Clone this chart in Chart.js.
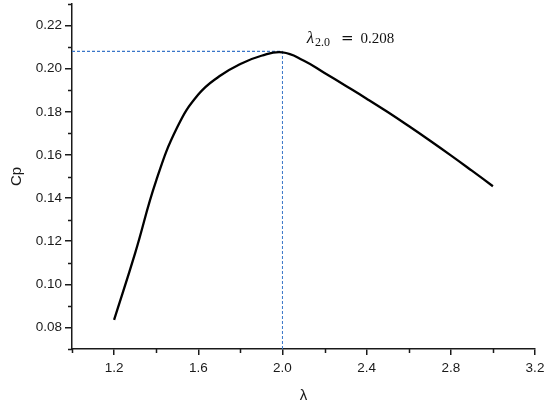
<!DOCTYPE html>
<html><head><meta charset="utf-8">
<script src="https://cdn.jsdelivr.net/npm/chart.js@4.4.1/dist/chart.umd.min.js"></script>
<style>html,body{margin:0;padding:0;background:#fff}#wrap{width:550px;height:406px}</style>
</head><body><div id="wrap"><canvas id="c" width="550" height="406"></canvas></div>
<script>
const lambdaVals = [1.2, 1.3, 1.4, 1.5, 1.6, 1.7, 1.8, 1.9, 2.0, 2.1, 2.2, 2.3, 2.4, 2.5, 2.6, 2.7, 2.8, 2.9, 3.0];
const cpVals = [0.0835, 0.1145, 0.1481, 0.1728, 0.1880, 0.1965, 0.2022, 0.2060, 0.2076, 0.2038, 0.1980, 0.1921, 0.1861, 0.1799, 0.1734, 0.1667, 0.1598, 0.1527, 0.1455];
const xTickVals = [1.2, 1.6, 2.0, 2.4, 2.8, 3.2];
const xMinorVals = [1.0, 1.4, 1.8, 2.2, 2.6, 3.0];
const yTickVals = [0.08, 0.10, 0.12, 0.14, 0.16, 0.18, 0.20, 0.22];
const yMinorVals = [0.07, 0.09, 0.11, 0.13, 0.15, 0.17, 0.19, 0.21, 0.23];
const xRange = [1.0, 3.2];
const yRange = [0.07, 0.23];
const peakLambda = 2.0;
const peakCp = 0.208;
const annotSymbol = 'λ';
const annotSub = '2.0';
const annotEq = '=';
const annotValue = '0.208';
const annotPos = [2.115, 0.2119];
const xTitle = 'λ';
const yTitle = 'Cp';

const curveData = lambdaVals.map((v, i) => ({x: v, y: cpVals[i]}));
const dashColor = '#3a76c8';

const minorTicks = {
  id: 'minorTicks',
  afterDraw(chart) {
    const {ctx, chartArea, scales: {x, y}} = chart;
    ctx.save();
    ctx.strokeStyle = '#1a1a1a';
    ctx.lineWidth = 1.5;
    ctx.beginPath();
    xMinorVals.forEach(v => {
      const px = Math.round(x.getPixelForValue(v)) + 0.5;
      ctx.moveTo(px, chartArea.bottom);
      ctx.lineTo(px, chartArea.bottom + 4);
    });
    yMinorVals.forEach(v => {
      const py = Math.round(y.getPixelForValue(v)) + 0.5;
      ctx.moveTo(chartArea.left, py);
      ctx.lineTo(chartArea.left - 4, py);
    });
    ctx.stroke();
    ctx.restore();
  }
};

const annot = {
  id: 'annot',
  afterDatasetsDraw(chart) {
    const {ctx, scales: {x, y}} = chart;
    let cx = x.getPixelForValue(annotPos[0]);
    const py = y.getPixelForValue(annotPos[1]);
    ctx.save();
    ctx.fillStyle = '#111';
    ctx.textBaseline = 'alphabetic';
    ctx.textAlign = 'left';
    ctx.font = 'italic 17px "Liberation Serif"';
    ctx.fillText(annotSymbol, cx, py);
    cx += ctx.measureText(annotSymbol).width + 1;
    ctx.font = '12px "Liberation Serif"';
    ctx.fillText(annotSub, cx, py + 3);
    cx += ctx.measureText(annotSub).width + 11;
    ctx.font = '15px "DejaVu Serif"';
    ctx.fillText(annotEq, cx, py);
    cx += ctx.measureText(annotEq).width + 7;
    ctx.font = '15px "Liberation Serif"';
    ctx.fillText(annotValue, cx, py);
    ctx.restore();
  }
};

const tickFont = {family: '"Liberation Sans", Arial, sans-serif', size: 13.5};
const titleFont = {family: '"Liberation Sans", Arial, sans-serif', size: 15};

new Chart(document.getElementById('c'), {
  type: 'scatter',
  data: {
    datasets: [
      {
        data: curveData, showLine: true, borderColor: '#000', borderWidth: 2.3,
        pointRadius: 0, tension: 0.45, order: 0, clip: false
      },
      {
        data: [{x: peakLambda, y: yRange[0]}, {x: peakLambda, y: peakCp}],
        showLine: true, borderColor: dashColor, borderWidth: 1, borderDash: [3, 2],
        pointRadius: 0, order: 1
      },
      {
        data: [{x: xRange[0], y: peakCp}, {x: peakLambda, y: peakCp}],
        showLine: true, borderColor: dashColor, borderWidth: 1.3, borderDash: [3, 2],
        pointRadius: 0, order: 1
      }
    ]
  },
  options: {
    responsive: false,
    animation: false,
    devicePixelRatio: 1,
    layout: {padding: {top: 4, right: 15, left: 0, bottom: 0}},
    plugins: {legend: {display: false}, tooltip: {enabled: false}},
    scales: {
      x: {
        type: 'linear', min: xRange[0], max: xRange[1],
        afterBuildTicks: s => { s.ticks = xTickVals.map(v => ({value: v})); },
        afterFit: s => { s.height = 57; s.paddingLeft = 0; s.paddingRight = 0; },
        ticks: {font: tickFont, color: '#1a1a1a', padding: 5, maxRotation: 0, autoSkip: false,
                callback: v => Number(v).toFixed(1)},
        grid: {drawOnChartArea: false, drawTicks: true, tickLength: 6, color: '#1a1a1a', lineWidth: 1.5},
        border: {display: true, color: '#1a1a1a', width: 1.5},
        title: {display: true, text: xTitle, font: titleFont, color: '#1a1a1a', padding: {top: 0, bottom: 1}}
      },
      y: {
        type: 'linear', min: yRange[0], max: yRange[1],
        afterBuildTicks: s => { s.ticks = yTickVals.map(v => ({value: v})); },
        afterFit: s => { s.width = 72; s.paddingTop = 0; s.paddingBottom = 0; },
        ticks: {font: tickFont, color: '#1a1a1a', padding: 3, autoSkip: false,
                callback: v => Number(v).toFixed(2)},
        grid: {drawOnChartArea: false, drawTicks: true, tickLength: 7, color: '#1a1a1a', lineWidth: 1.5},
        border: {display: true, color: '#1a1a1a', width: 1.5},
        title: {display: true, text: yTitle, font: titleFont, color: '#1a1a1a', padding: {top: 8, bottom: 0}}
      }
    }
  },
  plugins: [minorTicks, annot]
});
</script></body></html>
